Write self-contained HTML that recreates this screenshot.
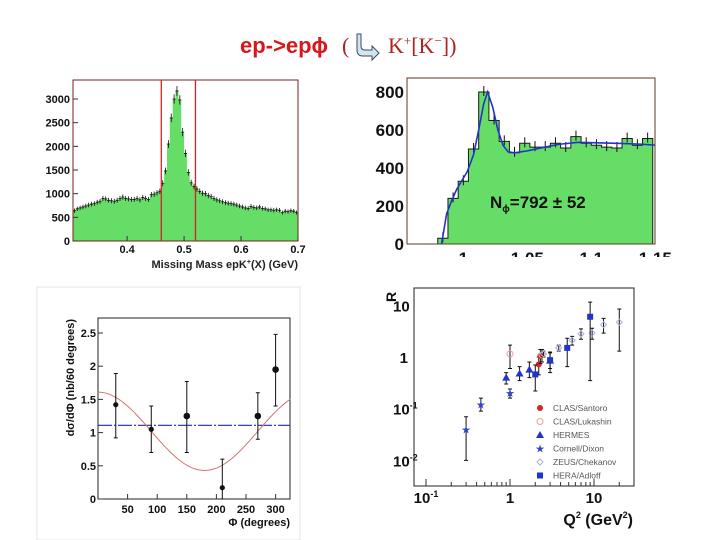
<!DOCTYPE html>
<html><head><meta charset="utf-8"><style>
html,body{margin:0;padding:0;background:#fff;width:720px;height:540px;overflow:hidden}
svg{display:block}
text{font-family:"Liberation Sans",Arial,sans-serif}
</style></head><body>
<svg id="s" width="720" height="540" viewBox="0 0 720 540" xmlns="http://www.w3.org/2000/svg">
<g>
<text x="240" y="53" font-size="22" font-weight="bold" fill="#d8161b">ep-&gt;epϕ</text>
<text x="342" y="53" font-size="22" fill="#b3201f" style="font-family:'Liberation Serif',serif">(</text>
<path d="M361,34 v12 q0,4 4,4 h7 v-4 l7,7 l-7,7 v-4 h-9 q-6,0 -6,-6 v-16 z" fill="#cfe6ee" stroke="#446" stroke-width="1"/>
<text x="388" y="53" font-size="22" fill="#b3201f" style="font-family:'Liberation Serif',serif">K<tspan font-size="13" dy="-8">+</tspan><tspan dy="8">[K</tspan><tspan font-size="13" dy="-8">−</tspan><tspan dy="8">])</tspan></text>
</g>
<g id="p1"></g>
<g id="p2"></g>
<g id="p3"></g>
<g id="p4"></g>
</svg>
<script>
// ---- Plot 1 data
const mmStart = 0.305, mmBin = 0.005;
const mmCounts = [640,680,700,720,740,760,780,790,820,840,900,890,860,850,840,860,900,930,900,890,880,880,900,870,920,900,880,980,990,1020,1050,1220,1480,2050,2600,3000,3170,2980,2300,1850,1450,1230,1150,1100,1050,1010,1000,960,940,900,870,850,830,810,800,790,780,760,740,720,700,690,730,710,700,720,690,680,660,660,650,660,650,600,630,620,640,630,600];
const mmCuts = [0.46, 0.52];
const mmYTicks = [0,500,1000,1500,2000,2500,3000];
const mmXTicks = [0.4,0.5,0.6,0.7];
// ---- Plot 2 data
const kkStart = 0.980, kkBin = 0.008;
const kkCounts = [30,240,330,500,800,650,540,480,530,510,510,530,505,565,530,520,510,505,555,520,555];
const kkFitX = [0.983,0.987,0.991,0.995,1.003,1.008,1.012,1.016,1.019,1.023,1.027,1.031,1.035,1.04,1.05,1.06,1.075,1.09,1.1,1.12,1.14,1.15];
const kkFitY = [0,160,230,290,380,470,600,740,800,720,600,520,485,480,490,505,525,535,533,530,525,520];
const kkYTicks = [0,200,400,600,800];
const kkXTicks = ["1","1.05","1.1","1.15"];
const kkXTickVals = [1,1.05,1.1,1.15];
// ---- Plot 3 data
const phiX = [30,90,150,210,270,300];
const phiY = [1.42,1.05,1.25,0.17,1.25,1.95];
const phiErrUp = [0.47,0.35,0.52,0.43,0.35,0.53];
const phiErrDn = [0.50,0.35,0.55,0.17,0.35,0.55];
const phiFlat = [1.11];
const phiFitParams = [1.02,0.59];
const phiYTicks = [0,0.5,1,1.5,2,2.5];
const phiXTicks = [50,100,150,200,250,300];
// ---- Plot 4 data
const santoroQ = [2.2,2.3], santoroR=[0.72,1.05], santoroLo=[0.45,0.75], santoroHi=[1.0,1.4];
const lukashinQ = [1.0,2.4], lukashinR=[1.15,1.1], lukashinLo=[0.6,0.8], lukashinHi=[1.7,1.4];
const hermesQ = [0.9,1.3,1.7,3.0], hermesR=[0.4,0.48,0.57,0.85], hermesLo=[0.3,0.35,0.4,0.5], hermesHi=[0.5,0.65,0.8,1.25];
const cornellQ = [0.3,0.45,1.0], cornellR=[0.04,0.12,0.2], cornellLo=[0.01,0.09,0.16], cornellHi=[0.07,0.16,0.24];
const zeusQ = [2.5,3.8,5.5,7,9.5,13,20], zeusR=[1.15,1.5,2.1,2.8,2.9,4.2,4.7], zeusLo=[1.0,1.3,1.7,2.2,2.2,2.9,1.3], zeusHi=[1.3,1.7,2.5,3.5,3.6,5.6,8.5];
const heraQ = [2.0,3.0,4.8,9], heraR=[0.46,0.87,1.5,6], heraLo=[0.22,0.6,0.65,0.35], heraHi=[0.7,1.2,2.3,11.5];
const legendLabels = ["CLAS/Santoro","CLAS/Lukashin","HERMES","Cornell/Dixon","ZEUS/Chekanov","HERA/Adloff"];

const NS="http://www.w3.org/2000/svg";
function el(parent,tag,attrs,txt){const e=document.createElementNS(NS,tag);for(const k in attrs)e.setAttribute(k,attrs[k]);if(txt!==undefined)e.textContent=txt;parent.appendChild(e);return e;}

// ===== Plot 1
(function(){
const g=document.getElementById('p1');
const X0=73,X1=298,Y0=241,Y1=80;
const x=v=>X0+(v-0.305)/(0.7-0.305)*(X1-X0);
const y=v=>Y0-v/3000*142;
let d=`M${X0},${Y0}`;
mmCounts.forEach((c,i)=>{const a=x(mmStart+i*mmBin),b=x(mmStart+(i+1)*mmBin);d+=` L${a},${y(c)} L${b},${y(c)}`;});
d+=` L${X1},${Y0} Z`;
const h=el(g,'path',{d,fill:'#66dd66',stroke:'none'});


mmCounts.forEach((c,i)=>{const cx=x(mmStart+(i+0.5)*mmBin),cy=y(c);const e=Math.sqrt(c)*0.6;
 const p=el(g,'path',{d:`M${cx-1.5},${cy}h3M${cx},${cy-e*142/3000*3}v${2*e*142/3000*3}`,stroke:'#111','stroke-width':0.8});
 
 });
el(g,'rect',{x:X0,y:Y1,width:X1-X0,height:Y0-Y1,fill:'none',stroke:'#7a1f1f','stroke-width':1});
mmCuts.forEach(v=>{const l=el(g,'line',{x1:x(v),x2:x(v),y1:Y1,y2:Y0,stroke:'#d42222','stroke-width':1.3});
 
 });
mmYTicks.forEach(v=>{const t=el(g,'text',{x:70,y:y(v)+4,'font-size':11,'font-weight':'bold','text-anchor':'end',fill:'#111'},v);
 
 
 el(g,'line',{x1:X0,x2:X0+5,y1:y(v),y2:y(v),stroke:'#333'});});
mmXTicks.forEach(v=>{const t=el(g,'text',{x:x(v),y:253,'font-size':11,'font-weight':'bold','text-anchor':'middle',fill:'#111'},v);
 
 
 el(g,'line',{x1:x(v),x2:x(v),y1:Y0,y2:Y0-5,stroke:'#333'});});
const xt=el(g,'text',{x:298,y:268,'font-size':11,'font-weight':'bold','text-anchor':'end',fill:'#222'});
xt.innerHTML='Missing Mass epK<tspan font-size="7" dy="-4">+</tspan><tspan dy="4">(X) (GeV)</tspan>';


})();

// ===== Plot 2
(function(){
const g=document.getElementById('p2');
const X0=407,X1=655,Y0=244,Y1=78;
const x=v=>X0+(v-0.956)*1280;
const y=v=>Y0-v/800*152;
let d=`M${x(kkStart)},${Y0}`;
kkCounts.forEach((c,i)=>{d+=` L${x(kkStart+i*kkBin)},${y(c)} L${x(kkStart+(i+1)*kkBin)},${y(c)}`;});
d+=` L${x(kkStart+kkCounts.length*kkBin)},${Y0} Z`;
const h=el(g,'path',{d,fill:'#66dd66',stroke:'#1a1a1a','stroke-width':1});


kkCounts.forEach((c,i)=>{const cx=x(kkStart+(i+0.5)*kkBin),cy=y(c);
 const p=el(g,'path',{d:`M${cx},${cy-6}v10`,stroke:'#111','stroke-width':1});
 
 });
const fp=el(g,'polyline',{points:kkFitX.map((v,i)=>`${x(v)},${y(kkFitY[i])}`).join(' '),fill:'none',stroke:'#2233cc','stroke-width':1.6});


el(g,'rect',{x:X0,y:Y1,width:X1-X0,height:Y0-Y1,fill:'none',stroke:'#5a3a2a','stroke-width':1});
kkYTicks.forEach(v=>{const t=el(g,'text',{x:404,y:y(v)+6,'font-size':17,'font-weight':'bold','text-anchor':'end',fill:'#111'},v);
 
 });
kkXTicks.forEach((s,i)=>{const t=el(g,'text',{x:x(kkXTickVals[i]),y:264,'font-size':17,'font-weight':'bold','text-anchor':'middle',fill:'#111'},s);
 
 });
el(g,'rect',{x:350,y:257,width:370,height:20,fill:'#fff'});
const n=el(g,'text',{x:490,y:208,'font-size':17,'font-weight':'bold',fill:'#111'});
n.innerHTML='N<tspan font-size="10" dy="4">ϕ</tspan><tspan dy="-4">=792 ± 52</tspan>';


})();

// ===== Plot 3
(function(){
const g=document.getElementById('p3');
el(g,'rect',{x:37,y:287,width:263,height:253,fill:'none',stroke:'#e4e4e4'});
const X0=98,X1=290,Y0=499,Y1=318;
const x=v=>X0+v*0.592;
const y=v=>Y0-v*66.4;
el(g,'rect',{x:X0,y:Y1,width:X1-X0,height:Y0-Y1,fill:'none',stroke:'#222','stroke-width':1});
const fl=el(g,'line',{x1:X0,x2:X1,y1:y(phiFlat[0]),y2:y(phiFlat[0]),stroke:'#1d2aa8','stroke-width':1.2,'stroke-dasharray':'14,2,2,2'});


let pts=[];for(let p=0;p<=325;p+=5)pts.push(`${x(p)},${y(phiFitParams[0]+phiFitParams[1]*Math.cos(p*Math.PI/180))}`);
const c=el(g,'polyline',{points:pts.join(' '),fill:'none',stroke:'#d77070','stroke-width':1});


phiX.forEach((v,i)=>{const cx=x(v);
 const e=el(g,'path',{d:`M${cx},${y(phiY[i]+phiErrUp[i])}V${y(phiY[i]-phiErrDn[i])}M${cx-2},${y(phiY[i]+phiErrUp[i])}h4M${cx-2},${y(phiY[i]-phiErrDn[i])}h4`,stroke:'#111','stroke-width':1});
 
 
 const d=el(g,'circle',{cx,cy:y(phiY[i]),r:i==2||i==4||i==5?3.3:2.6,fill:'#111'});
 
 });
phiYTicks.forEach(v=>{const t=el(g,'text',{x:96,y:y(v)+4,'font-size':11,'font-weight':'bold','text-anchor':'end',fill:'#111'},v);
 
 
 el(g,'line',{x1:X0,x2:X0+5,y1:y(v),y2:y(v),stroke:'#333'});});
phiXTicks.forEach(v=>{const t=el(g,'text',{x:x(v),y:513,'font-size':11,'font-weight':'bold','text-anchor':'middle',fill:'#111'},v);
 
 
 el(g,'line',{x1:x(v),x2:x(v),y1:Y0,y2:Y0-5,stroke:'#333'});});
const xt=el(g,'text',{x:290,y:526,'font-size':11,'font-weight':'bold','text-anchor':'end',fill:'#111'},'Φ (degrees)');


const yt=el(g,'text',{x:0,y:0,'font-size':11,'font-weight':'bold','text-anchor':'end',fill:'#111',transform:'translate(74,319) rotate(-90)'},'dσ/dΦ (nb/60 degrees)');


})();

// ===== Plot 4
(function(){
const g=document.getElementById('p4');
const X0=414,X1=634,Y0=486,Y1=288;
const x=q=>510+Math.log10(q)*84;
const y=r=>357-Math.log10(r)*51.7;
el(g,'rect',{x:X0,y:Y1,width:X1-X0,height:Y0-Y1,fill:'none',stroke:'#222','stroke-width':1});
[[0.1,'10'],[1,'1'],[10,'10']].forEach(([v,s],i)=>{const t=el(g,'text',{x:x(v),y:503,'font-size':15,'font-weight':'bold','text-anchor':'middle',fill:'#111'});
 t.innerHTML=i==0?'10<tspan font-size="9" dy="-6">-1</tspan>':s;
 
 });
[[10,'10'],[1,'1'],[0.1,'10<tspan font-size="9" dy="-6">-1</tspan>'],[0.01,'10<tspan font-size="9" dy="-6">-2</tspan>']].forEach(([v,s])=>{
 const t=el(g,'text',{x:v==1?408:393,y:y(v)+6,'font-size':15,'font-weight':'bold','text-anchor':v==1?'end':'start',fill:'#111'});
 t.innerHTML=s;
 
 });
for(let dec=-1;dec<=1;dec++)for(let m=1;m<10;m++){const q=m*Math.pow(10,dec);if(q<0.08||q>25)continue;el(g,'line',{x1:x(q),x2:x(q),y1:Y0,y2:Y0-(m==1?7:4),stroke:'#333'});}
const xt=el(g,'text',{x:633,y:525,'font-size':16,'font-weight':'bold','text-anchor':'end',fill:'#111'});
xt.innerHTML='Q<tspan font-size="9" dy="-7">2</tspan><tspan dy="7"> (GeV</tspan><tspan font-size="9" dy="-7">2</tspan><tspan dy="7">)</tspan>';


const yt=el(g,'text',{x:0,y:0,'font-size':14,'font-weight':'bold','text-anchor':'start',fill:'#111',transform:'translate(396,302) rotate(-90)'},'R');


function marker(gg,type,cx,cy){
 if(type==0)return el(gg,'circle',{cx,cy,r:3,fill:'#dd2222'});
 if(type==1)return el(gg,'circle',{cx,cy,r:3,fill:'none',stroke:'#e8a0a0'});
 if(type==2)return el(gg,'path',{d:`M${cx},${cy-4}L${cx+4},${cy+3}L${cx-4},${cy+3}Z`,fill:'#2233cc'});
 if(type==3)return el(gg,'text',{x:cx,y:cy+4,'font-size':11,'text-anchor':'middle',fill:'#3344cc'},'★');
 if(type==4)return el(gg,'path',{d:`M${cx},${cy-3}L${cx+3},${cy}L${cx},${cy+3}L${cx-3},${cy}Z`,fill:'none',stroke:'#aab0dd'});
 return el(gg,'rect',{x:cx-3,y:cy-3,width:6,height:6,fill:'#2233cc'});
}
const sets=[[santoroQ,santoroR,santoroLo,santoroHi],[lukashinQ,lukashinR,lukashinLo,lukashinHi],[hermesQ,hermesR,hermesLo,hermesHi],[cornellQ,cornellR,cornellLo,cornellHi],[zeusQ,zeusR,zeusLo,zeusHi],[heraQ,heraR,heraLo,heraHi]];
sets.forEach((s,k)=>{s[0].forEach((q,i)=>{const cx=x(q);
 const e=el(g,'path',{d:`M${cx},${y(s[3][i])}V${y(s[2][i])}M${cx-2},${y(s[3][i])}h4M${cx-2},${y(s[2][i])}h4`,stroke:'#111','stroke-width':1});
 
 
 const m=marker(g,k,cx,y(s[1][i]));
 
 });});
legendLabels.forEach((s,k)=>{const ly=408+k*13.5;
 const m=marker(g,k,540,ly);
 
 
 const t=el(g,'text',{x:553,y:ly+3,'font-size':8.5,fill:'#555'},s);
 
 });
})();
</script>
</body></html>
